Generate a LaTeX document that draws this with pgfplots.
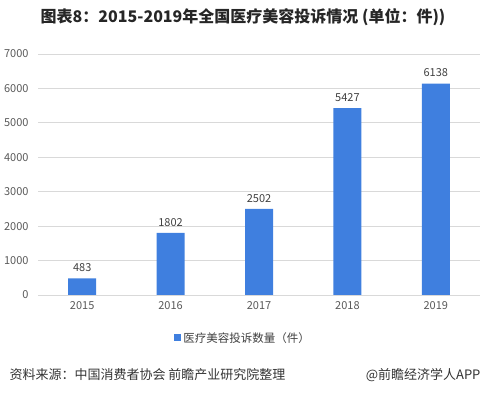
\documentclass[border=0pt]{standalone}
\usepackage{pgfplots}
\pgfplotsset{compat=1.18}
\usepackage{fontspec}
\setmainfont{Noto Sans CJK SC}
\definecolor{barblue}{HTML}{3F7FDF}
\definecolor{gridgray}{HTML}{D9D9D9}
\definecolor{ticktext}{HTML}{595959}
\definecolor{labtext}{HTML}{404040}
\begin{document}
\begin{tikzpicture}[x=1pt,y=1pt]
\path (0,0) rectangle (486,395);
\node[font=\fontsize{16}{16}\selectfont\bfseries, text=black!85] at (243,378) {图表8：2015-2019年全国医疗美容投诉情况 (单位：件))};
\begin{axis}[
  at={(38pt,100pt)}, anchor=south west,
  scale only axis, width=442pt, height=241pt,
  xmin=-0.5, xmax=4.5, ymin=0, ymax=7000,
  ytick={0,1000,...,7000},
  xtick={0,1,2,3,4},
  xticklabels={2015,2016,2017,2018,2019},
  ymajorgrids, grid style={gridgray, line width=0.8pt},
  axis x line*=bottom, axis y line*=left,
  x axis line style={gridgray, line width=0.8pt},
  y axis line style={draw=none},
  major tick length=0pt,
  tick label style={font=\fontsize{11}{11}\selectfont, text=ticktext},
  /pgf/number format/assume math mode=true,
  /pgf/number format/1000 sep={},
  yticklabel style={xshift=-6pt},
  xticklabel style={yshift=-3pt},
  nodes near coords,
  every node near coord/.append style={font=\fontsize{11}{11}\selectfont, text=labtext, yshift=3pt, /pgf/number format/assume math mode=true},
  legend style={at={(0.464,-0.178)}, anchor=center, draw=none, font=\fontsize{11.5}{11.5}\selectfont, text=labtext, legend cell align=left},
  legend image code/.code={\fill[barblue] (0pt,-3.5pt) rectangle (7pt,3.5pt);},
]
\addplot[ybar, bar width=28pt, fill=barblue, draw=none] coordinates {(0,483) (1,1802) (2,2502) (3,5427) (4,6138)};
\addlegendentry{医疗美容投诉数量（件）}
\end{axis}
\node[anchor=west, font=\fontsize{13}{13}\selectfont, text=black!80] at (6,20) {资料来源：中国消费者协会 前瞻产业研究院整理};
\node[anchor=east, font=\fontsize{13}{13}\selectfont, text=black!80] at (484,20) {@前瞻经济学人APP};
\end{tikzpicture}
\end{document}
